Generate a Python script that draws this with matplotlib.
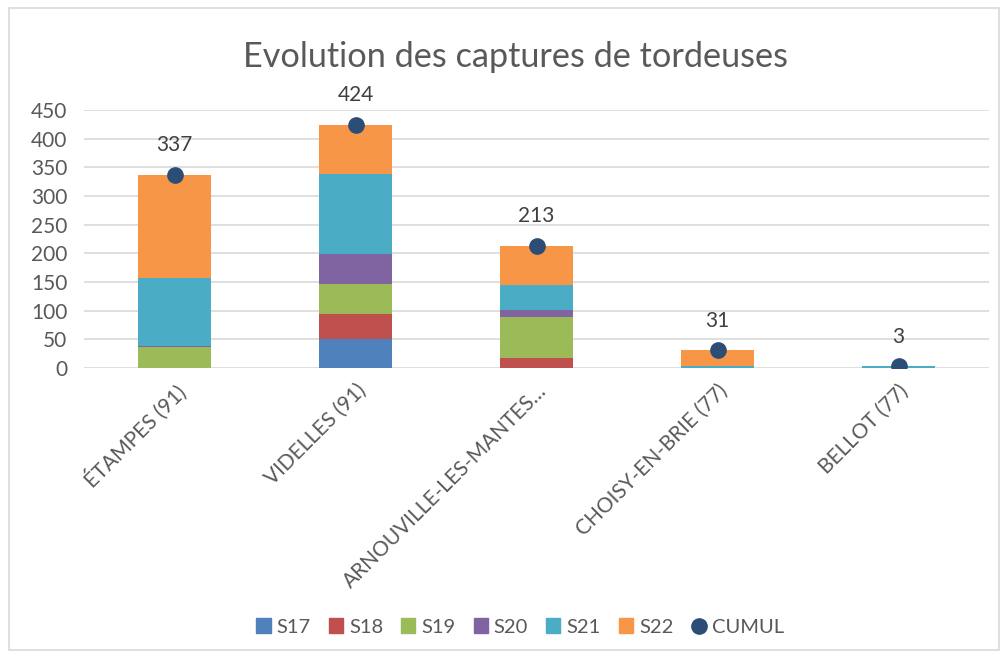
import matplotlib
matplotlib.use("Agg")
import matplotlib.pyplot as plt
from matplotlib.patches import Rectangle
from matplotlib.lines import Line2D
import numpy as np

categories = ["ÉTAMPES (91)", "VIDELLES (91)", "ARNOUVILLE-LES-MANTES…", "CHOISY-EN-BRIE (77)", "BELLOT (77)"]
series_names = ["S17", "S18", "S19", "S20", "S21", "S22"]
S17 = [0, 50, 0, 0, 0]
S18 = [0, 45, 17, 0, 0]
S19 = [37, 52, 72, 0, 0]
S20 = [2, 51, 13, 0, 0]
S21 = [118, 140, 42, 4, 3]
S22 = [180, 86, 69, 27, 0]
CUMUL = [337, 424, 213, 31, 3]
yticks = [0, 50, 100, 150, 200, 250, 300, 350, 400, 450]

colors = ["#4F81BD", "#C0504D", "#9BBB59", "#8064A2", "#4BACC6", "#F79646"]
cumul_color = "#2C4D75"
text_color = "#595959"

plt.rcParams['font.family'] = ['Lato', 'DejaVu Sans']

fig = plt.figure(figsize=(10.06, 6.56), dpi=100)
ax = fig.add_axes([84/1006, 1-368/656, 905/1006, (368-110)/656])

x = np.arange(len(categories))
bottom = np.zeros(len(categories))
data = [S17, S18, S19, S20, S21, S22]
for name, vals, c in zip(series_names, data, colors):
    ax.bar(x, vals, width=0.4, bottom=bottom, color=c, label=name, zorder=2)
    bottom += np.array(vals)

ax.plot(x, CUMUL, linestyle='none', marker='o', markersize=11, color=cumul_color, zorder=3, label="CUMUL")
for xi, v in zip(x, CUMUL):
    ax.annotate(str(v), (xi, v), xytext=(0, 14), textcoords='offset points', ha='center', va='bottom',
                fontsize=15, color="#404040")

ax.set_xlim(-0.5, len(categories) - 0.5)
ax.set_ylim(0, 450)
ax.set_yticks(yticks)
ax.set_yticklabels([str(t) for t in yticks], fontsize=15, color=text_color)
ax.grid(axis='y', color='#D9D9D9', linewidth=1.2, zorder=0)
ax.set_axisbelow(True)
for s in ax.spines.values():
    s.set_visible(False)
ax.tick_params(axis='both', length=0)
ax.tick_params(axis='y', pad=12)
ax.set_xticks(x)
ax.set_xticklabels(categories, rotation=45, ha='right', rotation_mode='anchor', fontsize=15, color=text_color)
ax.tick_params(axis='x', pad=9)

fig.text(0.512, 1-57/656, "Evolution des captures de tordeuses", ha='center', va='center', fontsize=24.7, color="#595959")

handles = [Rectangle((0, 0), 1, 1, color=c) for c in colors]
handles.append(Line2D([], [], linestyle='none', marker='o', markersize=11, color=cumul_color))
fig.legend(handles, series_names + ["CUMUL"], loc='center', bbox_to_anchor=(0.517, 1-627/656), ncol=7,
           frameon=False, fontsize=14.5, handlelength=0.7, handleheight=0.7, handletextpad=0.3, columnspacing=0.9,
           labelcolor=text_color)

fig.patches.append(Rectangle((9/1006, 6/656), 990/1006, 642/656, transform=fig.transFigure,
                             fill=False, edgecolor='#D9D9D9', linewidth=1.2))

fig.savefig("out.png", dpi=100)
